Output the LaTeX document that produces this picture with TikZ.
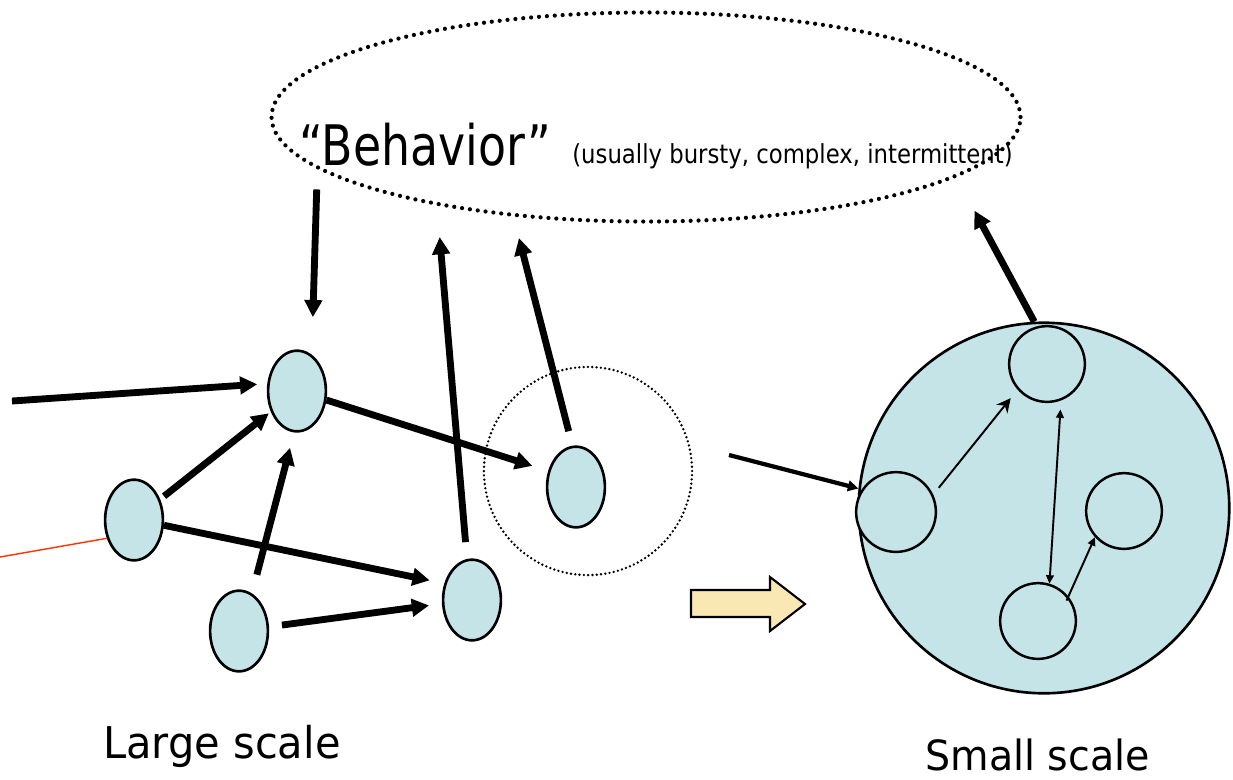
\documentclass[tikz,border=0pt]{standalone}
\usepackage{fontspec}
\newfontfamily\titlefont[FakeStretch=0.82]{DejaVu Sans}
\newfontfamily\notefont[FakeStretch=0.87]{DejaVu Sans}
\newfontfamily\capfont[FakeStretch=0.95]{DejaVu Sans}
\usetikzlibrary{shapes.geometric,arrows.meta}
\definecolor{cellfill}{RGB}{196,228,231}
\definecolor{shiftfill}{RGB}{250,232,180}
\definecolor{tieline}{RGB}{255,51,0}
\begin{document}
\begin{tikzpicture}[x=0.02cm,y=-0.02cm,
  cell/.style={ellipse, draw, line width=1.5pt, fill=cellfill,
    minimum width=32.9pt, minimum height=45.9pt, inner sep=0pt},
  part/.style={circle, draw, line width=1.4pt, fill=cellfill,
    minimum size=43.1pt, inner sep=0pt},
  flow/.style={line width=3.9pt, -{Triangle[length=9.8pt,width=9.8pt]}},
  feed/.style={line width=2.4pt, -{Triangle[length=6pt,width=6pt]}},
  link/.style={line width=1.1pt, -{Triangle[length=4.8pt,width=4.4pt]}},
  dotring/.style={draw, line cap=round},
  txt/.style={inner sep=0pt, anchor=base west}
]
\useasboundingbox (0,0) rectangle (1233,779);

% behaviour region and its labels
\node[ellipse, dotring, line width=2.4pt, dash pattern=on 0pt off 4.5pt,
  minimum width=426.3pt, minimum height=119pt, inner sep=0pt] (beh) at (646,117) {};
\node[txt] (behtitle) at (299,165) {\titlefont\fontsize{31.8}{38}\selectfont “Behavior”};
\node[txt] (behnote) at (572,163) {\notefont\fontsize{14.9}{18}\selectfont (usually bursty, complex, intermittent)};

% large scale network
\node[circle, dotring, line width=1.5pt, dash pattern=on 0pt off 2.45pt,
  minimum size=118.5pt, inner sep=0pt] (zoomc) at (588,471) {};
\node[cell] (A) at (297,391) {};
\node[cell] (B) at (134,520) {};
\node[cell] (C) at (239,631) {};
\node[cell] (D) at (472,600) {};
\node[cell] (E) at (576,487) {};
\coordinate (in) at (12,401);
\coordinate (tail) at (0,557);

\draw[tieline, line width=0.8pt] (tail) -- (B.214);
\draw[flow, shorten >=5.7pt] (in) -- (A.166);
\draw[flow, shorten <=2.8pt, shorten >=1.4pt] (B) -- (A);
\draw[flow, shorten >=8.5pt] (B.-10) -- (D.149);
\draw[flow, shorten <=11pt, shorten >=9pt] (C.71) -- (A.266);
\draw[flow, shorten <=7.4pt, shorten >=7.4pt] (C.8) -- (D.187);
\draw[flow, shorten >=9.4pt] (A.-17) -- (E.150);
\draw[flow, shorten <=9.6pt, shorten >=17.9pt] (D.97) -- (beh.203);
\draw[flow, shorten <=8.5pt, shorten >=12.4pt] (E.95) -- (beh.217.5);
\draw[flow, shorten <=11.6pt, shorten >=21.3pt] (beh.189.7) -- (A.68);

% shift to the small scale
\draw[line width=1.2pt, fill=shiftfill, line join=miter]
  (691,590) -- (770,590) -- (770,577) -- (805,604) -- (770,631) -- (770,617) -- (691,617) -- cycle;

% small scale view
\node[circle, draw, line width=1.5pt, fill=cellfill, minimum size=210.9pt, inner sep=0pt] (Big) at (1044,508) {};
\node[part] (T) at (1047,364) {};
\node[part, minimum size=45.4pt] (L) at (896,512) {};
\node[part] (R) at (1124,511) {};
\node[part] (Bo) at (1038,621) {};
\coordinate (feedin) at (729,455);

\draw[feed] (feedin) -- (Big.174);
\draw[flow, shorten >=21.5pt] (Big.93.4) -- (beh.-11.6);
\draw[line width=1.1pt, -{Stealth[length=8pt,width=8pt]}, shorten <=5pt, shorten >=6.2pt] (L.25.5) -- (T.221);
\draw[line width=1.1pt, {Triangle[length=4.8pt,width=4.4pt]}-{Triangle[length=4.8pt,width=4.4pt]}, shorten <=5.1pt] (T.291) -- (Bo.73);
\draw[link, shorten <=-2.6pt] (Bo.39) -- (R.222);

% scale captions
\node[txt] (largelbl) at (103,758) {\capfont\fontsize{24.9}{30}\selectfont Large scale};
\node[txt] (smalllbl) at (925,770) {\capfont\fontsize{23.7}{28}\selectfont Small scale};
\end{tikzpicture}
\end{document}
